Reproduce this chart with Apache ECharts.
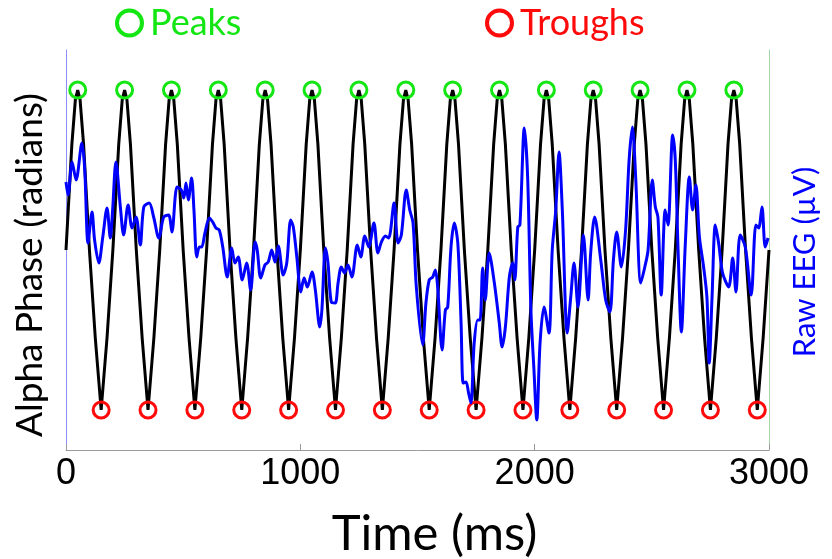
<!DOCTYPE html>
<html>
<head>
<meta charset="utf-8">
<script src="https://cdn.jsdelivr.net/npm/echarts@6/dist/echarts.min.js"></script>
<style>
  html, body { margin: 0; padding: 0; background: #fff; }
  #chart { width: 832px; height: 559px; }
</style>
</head>
<body>
<div id="chart"></div>
<script>
// black phase trace, [time ms, value]
const phaseCurve = [
  [0, 0], [25, 0.66], [40, 0.94], [50, 1], [60, 0.94], [75, 0.66], [100, 0], [125, -0.55], [150, -1], [175, -0.55],
  [200, 0], [225, 0.66], [240, 0.94], [250, 1], [260, 0.94], [275, 0.66], [300, 0], [325, -0.55], [350, -1], [375, -0.55],
  [400, 0], [425, 0.66], [440, 0.94], [450, 1], [460, 0.94], [475, 0.66], [500, 0], [525, -0.55], [550, -1], [575, -0.55],
  [600, 0], [625, 0.66], [640, 0.94], [650, 1], [660, 0.94], [675, 0.66], [700, 0], [725, -0.55], [750, -1], [775, -0.55],
  [800, 0], [825, 0.66], [840, 0.94], [850, 1], [860, 0.94], [875, 0.66], [900, 0], [925, -0.55], [950, -1], [975, -0.55],
  [1000, 0], [1025, 0.66], [1040, 0.94], [1050, 1], [1060, 0.94], [1075, 0.66], [1100, 0], [1125, -0.55], [1150, -1], [1175, -0.55],
  [1200, 0], [1225, 0.66], [1240, 0.94], [1250, 1], [1260, 0.94], [1275, 0.66], [1300, 0], [1325, -0.55], [1350, -1], [1375, -0.55],
  [1400, 0], [1425, 0.66], [1440, 0.94], [1450, 1], [1460, 0.94], [1475, 0.66], [1500, 0], [1525, -0.55], [1550, -1], [1575, -0.55],
  [1600, 0], [1625, 0.66], [1640, 0.94], [1650, 1], [1660, 0.94], [1675, 0.66], [1700, 0], [1725, -0.55], [1750, -1], [1775, -0.55],
  [1800, 0], [1825, 0.66], [1840, 0.94], [1850, 1], [1860, 0.94], [1875, 0.66], [1900, 0], [1925, -0.55], [1950, -1], [1975, -0.55],
  [2000, 0], [2025, 0.66], [2040, 0.94], [2050, 1], [2060, 0.94], [2075, 0.66], [2100, 0], [2125, -0.55], [2150, -1], [2175, -0.55],
  [2200, 0], [2225, 0.66], [2240, 0.94], [2250, 1], [2260, 0.94], [2275, 0.66], [2300, 0], [2325, -0.55], [2350, -1], [2375, -0.55],
  [2400, 0], [2425, 0.66], [2440, 0.94], [2450, 1], [2460, 0.94], [2475, 0.66], [2500, 0], [2525, -0.55], [2550, -1], [2575, -0.55],
  [2600, 0], [2625, 0.66], [2640, 0.94], [2650, 1], [2660, 0.94], [2675, 0.66], [2700, 0], [2725, -0.55], [2750, -1], [2775, -0.55],
  [2800, 0], [2825, 0.66], [2840, 0.94], [2850, 1], [2860, 0.94], [2875, 0.66], [2900, 0], [2925, -0.55], [2950, -1], [2975, -0.55],
  [3000, 0]
];

const peakTimes = [50, 250, 450, 650, 850, 1050, 1250, 1450, 1650, 1850, 2050, 2250, 2450, 2650, 2850];
const troughTimes = [150, 350, 550, 750, 950, 1150, 1350, 1550, 1750, 1950, 2150, 2350, 2550, 2750, 2950];

// raw EEG, [time ms, µV]
const eegTrace = [
  [0, 13.6], [9, 11], [26, 17.6], [43, 14], [68, 21.4], [80, 16], [94, 1.4], [111, 7.6], [122, 2], [140, -2.6],
  [157, 2.6], [175, 8.4], [189, 2.4], [199, 8], [213, 17.6], [232, 8.6], [246, 3], [265, 9], [282, 4.4], [299, 6.6],
  [317, 1], [332, 8.6], [355, 9.4], [374, 6.6], [396, 2.4], [417, 6.6], [438, 7], [452, 3.6], [474, 12.6], [492, 12],
  [503, 10.4], [512, 13.4], [522, 10], [536, 14.4], [546, 8], [558, -1.4], [569, 0.6], [579, 0.6], [593, 3.4], [612, 6.4],
  [626, 5.6], [640, 4.4], [654, 4], [669, 0.6], [688, -5.4], [707, 0.4], [721, -2.6], [735, -1.4], [752, -6], [771, -2.6],
  [788, -8], [807, 1.6], [816, 0], [831, -5.6], [849, -3], [863, -2.4], [878, 0], [892, -2.4], [906, 0.8], [927, -5],
  [942, -2.6], [959, 6], [970, 4.6], [985, -1.4], [1002, -8.4], [1016, -5.6], [1030, -7.4], [1050, -4.4], [1064, -8], [1083, -15.4],
  [1092, -12], [1107, 0.4], [1118, -2.6], [1132, -10.4], [1149, -10.6], [1161, -6.6], [1175, -3.4], [1189, -4.6], [1203, -3], [1220, -5.4],
  [1243, 1], [1258, -1.4], [1275, 2.8], [1292, 0.6], [1314, 5.4], [1331, -0.6], [1346, 1.6], [1363, 2.8], [1377, 2.4], [1400, 9.4],
  [1417, 1.4], [1431, 3], [1452, 12], [1467, 8], [1481, 5.4], [1495, -7.4], [1522, -19], [1536, -10.6], [1550, -6], [1565, -5.4],
  [1576, -4], [1586, -7.4], [1605, -20], [1619, -12], [1629, -11.4], [1643, 0.6], [1657, 5.4], [1672, 1.4], [1686, -14.6], [1695, -26.6],
  [1707, -26.4], [1718, -28.6], [1728, -30.6], [1742, -18.6], [1757, -14], [1767, -14], [1778, -3.6], [1789, -10], [1806, -0.6], [1828, -6.6],
  [1849, -14.6], [1861, -19.4], [1875, -15.4], [1892, -5.4], [1906, -2.6], [1915, -6], [1928, 4.6], [1937, 5], [1956, 24.4], [1970, 14.6],
  [1984, -12], [1997, -24], [2009, -34], [2023, -18.6], [2040, -11.4], [2061, -16.6], [2075, 0], [2090, 8], [2104, 19.6], [2118, 8],
  [2139, -16.6], [2154, -9.4], [2168, -2.6], [2185, -11.4], [2208, 3], [2228, -10], [2239, -0.6], [2256, 6.6], [2282, -2], [2303, -10],
  [2321, -12.4], [2336, -2], [2350, 3.6], [2370, -3.4], [2388, 4], [2403, 18], [2417, 24.6], [2431, 14.6], [2453, -6.6], [2470, -3.4],
  [2484, 0], [2502, 14], [2515, 8.6], [2526, 6.6], [2540, -9], [2557, 8], [2569, 5], [2589, 23], [2600, 18], [2612, 0],
  [2626, -16.4], [2643, 1.4], [2660, 14.6], [2674, 8], [2688, 13], [2703, 2.6], [2721, -3.4], [2735, -9.4], [2745, -22.6], [2757, -9.4],
  [2771, 5], [2785, 1.4], [2802, -4.6], [2828, -7.4], [2845, -1.6], [2859, -8.4], [2877, 3], [2899, 0.6], [2924, -9], [2944, 5],
  [2956, 4.4], [2970, 8.6], [2984, 0.6], [2996, 2.4]
];

const timeTicks = [0, 1000, 2000, 3000];

const PEAK_GREEN = "#14e614";
const TROUGH_RED = "#ff0a0a";
const EEG_BLUE = "#0000ff";
const TEXT_FONT = "Lato, 'Open Sans', sans-serif";

const chart = echarts.init(document.getElementById("chart"), null, { renderer: "canvas" });

const legendBase = {
  top: 0,
  itemWidth: 25,
  itemHeight: 25,
  itemGap: 0,
  selectedMode: false,
  icon: "circle",
  textStyle: { fontFamily: TEXT_FONT, fontSize: 36, padding: [0, 0, 0, 3] },
};

chart.setOption({
  animation: false,
  backgroundColor: "#ffffff",
  grid: { left: 66, right: 63, top: 50, bottom: 109, outerBoundsMode: "none" },
  legend: [
    {
      ...legendBase,
      left: 110,
      data: [{
        name: "Peaks",
        itemStyle: { color: "transparent", borderColor: PEAK_GREEN, borderWidth: 4, opacity: 1 },
        textStyle: { color: PEAK_GREEN },
      }],
    },
    {
      ...legendBase,
      left: 480,
      data: [{
        name: "Troughs",
        itemStyle: { color: "transparent", borderColor: TROUGH_RED, borderWidth: 4, opacity: 1 },
        textStyle: { color: TROUGH_RED },
      }],
    },
  ],
  xAxis: {
    type: "value",
    min: 0,
    max: 3000,
    interval: 1000,
    name: "Time (ms)",
    nameLocation: "middle",
    nameGap: 60,
    nameTextStyle: { fontFamily: TEXT_FONT, fontSize: 49, color: "#000", padding: [0, 0, 0, 34] },
    axisLine: { show: true, onZero: false, lineStyle: { color: "#9a9a9a", width: 1 } },
    axisTick: { show: true, inside: true, length: 6, lineStyle: { color: "#9a9a9a" } },
    axisLabel: {
      color: "#000",
      fontFamily: "'Liberation Sans', Arial, sans-serif",
      fontSize: 36,
      margin: 6,
      formatter: (value) => (timeTicks.includes(value) ? String(value) : ""),
    },
    splitLine: { show: false },
  },
  yAxis: [
    {
      type: "value",
      min: -1.25,
      max: 1.25,
      position: "left",
      name: "Alpha Phase (radians)",
      nameLocation: "middle",
      nameRotate: 90,
      nameGap: 17,
      nameTextStyle: { fontFamily: TEXT_FONT, fontSize: 37, color: "#000", padding: [0, 30, 0, 0] },
      axisLine: { show: true, onZero: false, lineStyle: { color: "#8c8cff", width: 1 } },
      axisTick: { show: false },
      axisLabel: { show: false },
      splitLine: { show: false },
    },
    {
      type: "value",
      min: -40,
      max: 40,
      position: "right",
      name: "Raw EEG (µV)",
      nameLocation: "middle",
      nameRotate: 90,
      nameGap: 20,
      nameTextStyle: { fontFamily: TEXT_FONT, fontSize: 31, color: EEG_BLUE, padding: [0, 24, 0, 0] },
      axisLine: { show: true, onZero: false, lineStyle: { color: "#a6d6a6", width: 1 } },
      axisTick: { show: false },
      axisLabel: { show: false },
      splitLine: { show: false },
    },
  ],
  series: [
    {
      name: "Alpha Phase",
      type: "line",
      yAxisIndex: 0,
      data: phaseCurve,
      showSymbol: false,
      lineStyle: { color: "#000", width: 3 },
      z: 2,
    },
    {
      name: "Peaks",
      type: "scatter",
      yAxisIndex: 0,
      data: peakTimes.map((t) => [t, 1]),
      symbol: "circle",
      symbolSize: 16,
      itemStyle: { color: "transparent", borderColor: PEAK_GREEN, borderWidth: 3, opacity: 1 },
      z: 3,
    },
    {
      name: "Troughs",
      type: "scatter",
      yAxisIndex: 0,
      data: troughTimes.map((t) => [t, -1]),
      symbol: "circle",
      symbolSize: 16,
      itemStyle: { color: "transparent", borderColor: TROUGH_RED, borderWidth: 3, opacity: 1 },
      z: 3,
    },
    {
      name: "Raw EEG",
      type: "line",
      yAxisIndex: 1,
      data: eegTrace,
      showSymbol: false,
      smooth: 0.3,
      lineStyle: { color: EEG_BLUE, width: 3 },
      z: 4,
    },
  ],
});
</script>
</body>
</html>
